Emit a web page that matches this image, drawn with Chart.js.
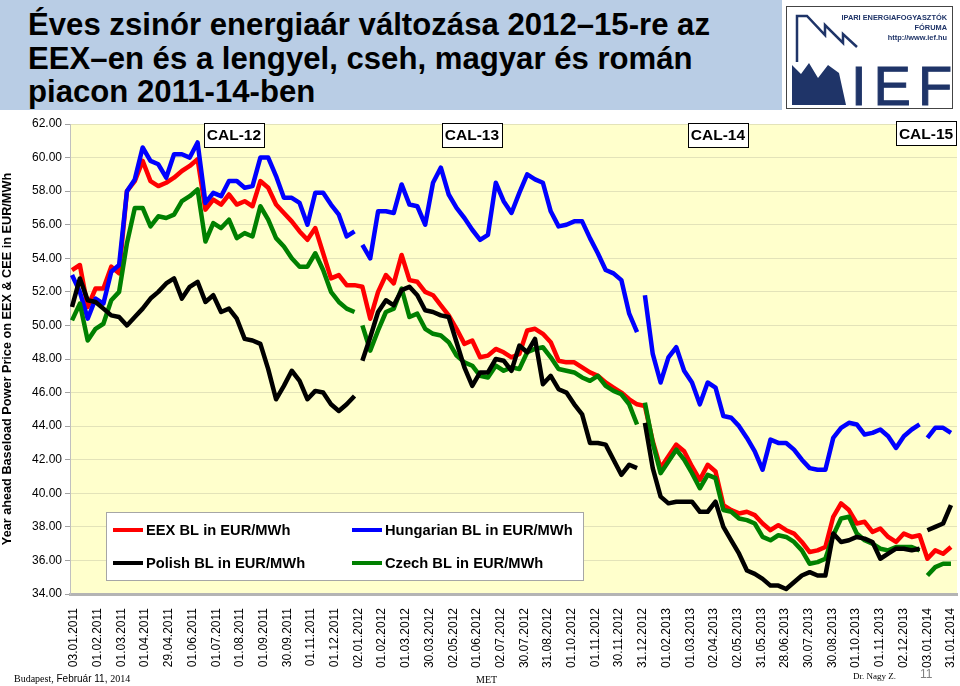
<!DOCTYPE html>
<html><head><meta charset="utf-8">
<script src="https://cdn.jsdelivr.net/npm/chart.js@4.4.1/dist/chart.umd.min.js"></script>
<style>
html,body{margin:0;padding:0;background:#fff;}
body{width:960px;height:686px;overflow:hidden;position:relative;font-family:"Liberation Sans",Arial,sans-serif;}
#chart{position:absolute;left:0;top:0;}
#titlebox{position:absolute;left:0;top:0;width:782px;height:110px;background:#b9cde5;}
#title{position:absolute;left:28px;top:8px;font-weight:bold;font-size:32px;line-height:33.5px;white-space:nowrap;transform-origin:0 0;color:#000;}
#title span{display:block;width:max-content;}
#logo{position:absolute;left:786px;top:6px;width:165px;height:101px;border:1px solid #444;background:#fff;}
.foot{position:absolute;white-space:nowrap;color:#000;}
</style></head>
<body>
<canvas id="chart" width="960" height="686"></canvas>
<div id="titlebox"><div id="title"><span id="t1">Éves zsinór energiaár változása 2012–15-re az</span><span>EEX–en és a lengyel, cseh, magyar és román</span><span>piacon 2011-14-ben</span></div></div>
<div id="logo">
<svg width="165" height="101" viewBox="0 0 165 101" xmlns="http://www.w3.org/2000/svg">
<polyline points="10,55 10,9 20,9 38,28 38,18 56,36 56,27 70,40" fill="none" stroke="#1f3468" stroke-width="2.5"/>
<polygon points="5,98 5,58 14,67 22,56 31,71 41,58 52,66 59,98" fill="#1f3468"/>
<text x="160" y="13" text-anchor="end" font-family="Liberation Sans, Arial" font-weight="bold" font-size="7.4" fill="#1f3468">IPARI ENERGIAFOGYASZTÓK</text>
<text x="160" y="23" text-anchor="end" font-family="Liberation Sans, Arial" font-weight="bold" font-size="7.4" fill="#1f3468">FÓRUMA</text>
<text x="160" y="33" text-anchor="end" font-family="Liberation Sans, Arial" font-weight="bold" font-size="7.4" fill="#1f3468">http://www.ief.hu</text>
<text x="64" y="98" font-family="Liberation Sans, Arial" font-size="56" letter-spacing="7" fill="#1f3468" stroke="#1f3468" stroke-width="1">IEF</text>
</svg>
</div>
<div class="foot" style="left:14px;top:673px;font-size:10px;"><span style="font-family:'Liberation Serif',serif">Budapest,</span> <span style="font-family:'Liberation Sans',Arial">Február 11,</span> <span style="font-family:'Liberation Serif',serif">2014</span></div>
<div class="foot" style="left:476px;top:674px;font-size:10px;font-family:'Liberation Serif',serif;">MET</div>
<div class="foot" style="left:853px;top:671px;font-size:9px;font-family:'Liberation Serif',serif;">Dr. Nagy Z.</div>
<div class="foot" style="left:920px;top:667px;font-size:12px;color:#808080;">11</div>
<script>
// ---- data ----
const tickLabels = ["03.01.2011","01.02.2011","01.03.2011","01.04.2011","29.04.2011","01.06.2011","01.07.2011","01.08.2011","01.09.2011","30.09.2011","01.11.2011","01.12.2011","02.01.2012","01.02.2012","01.03.2012","30.03.2012","02.05.2012","01.06.2012","02.07.2012","30.07.2012","31.08.2012","01.10.2012","01.11.2012","30.11.2012","31.12.2012","01.02.2013","01.03.2013","02.04.2013","02.05.2013","31.05.2013","28.06.2013","30.07.2013","30.08.2013","01.10.2013","01.11.2013","02.12.2013","03.01.2014","31.01.2014"];
const seriesNames = ["EEX BL in EUR/MWh","Hungarian BL in EUR/MWh","Polish BL in EUR/MWh","Czech BL in EUR/MWh"];
// samples are read roughly weekly: sample k sits at tick position sampleStart + k / samplesPerTick
const sampleStart = -0.084;
const samplesPerTick = 3.02;
const eex = [53.3,53.6,51.1,52.2,52.2,53.5,53.1,58.0,58.6,59.8,58.6,58.3,58.5,58.8,59.2,59.5,59.9,56.9,57.5,57.2,57.8,57.2,57.4,57.1,58.6,58.2,57.2,56.7,56.2,55.6,55.1,55.8,54.3,52.8,53.0,52.4,52.4,
52.3,50.4,52.0,53.0,52.5,54.2,52.7,52.6,52.0,51.8,51.2,50.6,49.8,48.9,49.1,48.1,48.2,48.6,48.4,48.1,48.3,49.7,49.8,49.5,49.0,47.9,47.8,47.8,47.5,47.2,47.0,46.6,46.3,46.0,45.6,45.3,
45.2,43.1,41.5,42.2,42.9,42.5,41.6,40.8,41.7,41.3,39.3,39.0,38.8,38.9,38.7,38.2,37.8,38.1,37.8,37.6,37.1,36.5,36.6,36.8,38.6,39.4,39.0,38.2,38.3,37.7,37.9,37.4,37.1,37.6,37.4,37.5,
36.1,36.6,36.4,36.8];
const hu = [53.0,52.0,50.4,51.6,51.3,53.2,53.6,58.0,58.7,60.6,59.8,59.6,58.8,60.2,60.2,60.0,60.9,57.3,57.9,57.7,58.6,58.6,58.2,58.3,60.0,60.0,58.9,57.6,57.6,57.3,56.0,57.9,57.9,57.2,56.6,55.3,55.6,
54.8,54.0,56.8,56.8,56.7,58.4,57.2,57.1,56.0,58.5,59.4,57.8,57.0,56.4,55.7,55.1,55.4,58.5,57.4,56.7,57.9,59.0,58.7,58.5,56.8,55.9,56.0,56.2,56.2,55.2,54.3,53.3,53.1,52.7,50.7,49.6,
51.8,48.3,46.6,48.1,48.7,47.3,46.6,45.3,46.6,46.3,44.6,44.5,44.0,43.3,42.5,41.4,43.2,43.0,43.0,42.6,42.0,41.5,41.4,41.4,43.3,43.9,44.2,44.1,43.5,43.6,43.8,43.4,42.7,43.4,43.8,44.1,
43.3,43.9,43.9,43.6];
const pl = [51.1,52.8,51.5,51.4,51.0,50.6,50.5,50.0,50.5,51.0,51.6,52.0,52.5,52.8,51.6,52.3,52.6,51.4,51.8,50.8,51.0,50.4,49.2,49.1,48.9,47.4,45.6,46.4,47.3,46.7,45.6,46.1,46.0,45.3,44.9,45.3,45.8,
47.9,49.3,50.8,51.5,51.2,52.1,52.3,51.8,50.9,50.8,50.6,50.5,49.0,47.5,46.4,47.2,47.2,48.0,47.9,47.3,48.8,48.4,49.2,46.5,47.0,46.2,46.0,45.3,44.7,43.0,43.0,42.9,42.0,41.1,41.7,41.5,
44.2,41.5,39.8,39.4,39.5,39.5,39.5,38.9,38.9,39.5,38.0,37.2,36.4,35.4,35.2,34.9,34.5,34.5,34.3,34.7,35.1,35.3,35.1,35.1,37.6,37.1,37.2,37.4,37.3,37.1,36.1,36.4,36.7,36.7,36.6,36.7,
37.8,38.0,38.2,39.3];
const cz = [50.3,51.3,49.1,49.8,50.1,51.5,52.0,54.9,57.0,57.0,55.9,56.5,56.4,56.6,57.4,57.7,58.1,55.0,56.1,55.8,56.3,55.2,55.5,55.3,57.1,56.3,55.2,54.7,54.0,53.5,53.5,54.3,53.3,52.0,51.4,51.0,50.8,
50.0,48.5,49.7,50.8,51.0,52.2,50.5,50.7,49.8,49.5,49.4,49.0,48.2,47.8,47.6,47.0,46.9,47.6,47.3,47.5,47.4,48.4,48.6,48.7,48.1,47.4,47.3,47.2,46.9,46.7,47.0,46.4,46.1,45.9,45.3,44.1,
45.4,43.0,41.2,41.9,42.6,42.0,41.2,40.3,41.1,40.9,39.0,38.9,38.5,38.4,38.2,37.4,37.2,37.5,37.4,37.1,36.6,35.8,35.9,36.1,37.5,38.5,38.6,37.6,37.2,37.0,36.7,36.6,36.8,36.8,36.8,36.6,
35.1,35.6,35.8,35.8];
const yearGaps = [36, 72, 108]; // sample index after which a contract-year change breaks the curve
const yTicks = {min: 34, max: 62, step: 2};
const calNames = ["CAL-12","CAL-13","CAL-14","CAL-15"];

// ---- chart ----
const FONT = "'Liberation Sans', Arial, sans-serif";
function pts(arr){ return arr.map((v,i)=>({x: sampleStart + i / samplesPerTick, y: v})); }
function ds(label, arr, color, order, gaps){
  return {label, data: pts(arr), borderColor: color, backgroundColor: color, borderWidth: 4.5,
    pointRadius: 0, pointHoverRadius: 0, tension: 0, order, borderJoinStyle: 'round',
    segment: {borderColor: ctx => gaps.includes(ctx.p0DataIndex) ? 'rgba(0,0,0,0)' : undefined}};
}

const bgPlugin = {
  id: 'plotbg',
  beforeDraw(chart){
    const {ctx, chartArea: a} = chart;
    ctx.save(); ctx.fillStyle = '#ffffcc'; ctx.fillRect(a.left, a.top, a.right - a.left, a.bottom - a.top); ctx.restore();
  }
};
const calPlugin = {
  id: 'cal',
  afterDatasetsDraw(chart, args, opts){
    const {ctx} = chart; const xs = chart.scales.x, ys = chart.scales.y;
    ctx.save();
    ctx.font = 'bold 15.5px ' + FONT; ctx.textAlign = 'center'; ctx.textBaseline = 'middle';
    calNames.forEach((name, i) => {
      const cx = xs.getPixelForValue(opts.at[i]); const cy = ys.getPixelForValue(opts.yAt[i]);
      const w = 60, h = 24;
      ctx.fillStyle = '#fff'; ctx.fillRect(cx - w/2, cy - h/2, w, h);
      ctx.strokeStyle = '#000'; ctx.lineWidth = 1; ctx.strokeRect(Math.round(cx - w/2) + 0.5, Math.round(cy - h/2) + 0.5, w, h);
      ctx.fillStyle = '#000'; ctx.fillText(name, cx, cy + 1);
    });
    ctx.restore();
  }
};
const legendPlugin = {
  id: 'boxlegend',
  afterDraw(chart, args, opts){
    const {ctx} = chart;
    ctx.save();
    ctx.fillStyle = '#fff'; ctx.fillRect(opts.x, opts.y, opts.w, opts.h);
    ctx.strokeStyle = '#a6a6a6'; ctx.lineWidth = 1; ctx.strokeRect(opts.x + 0.5, opts.y + 0.5, opts.w, opts.h);
    ctx.font = 'bold 14.7px ' + FONT; ctx.textBaseline = 'middle'; ctx.textAlign = 'left';
    chart.data.datasets.forEach((d, i) => {
      const col = i % 2, row = Math.floor(i / 2);
      const lx = opts.x + opts.pad + col * opts.colW, ly = opts.y + opts.rowY[row];
      ctx.strokeStyle = d.borderColor; ctx.lineWidth = 4; ctx.lineCap = 'butt';
      ctx.beginPath(); ctx.moveTo(lx, ly); ctx.lineTo(lx + 30, ly); ctx.stroke();
      ctx.fillStyle = '#000'; ctx.fillText(d.label, lx + 33, ly + 1);
    });
    ctx.restore();
  }
};

new Chart(document.getElementById('chart'), {
  type: 'line',
  data: { datasets: [
    ds(seriesNames[0], eex, '#ff0000', 3, []),
    ds(seriesNames[1], hu, '#0000ff', 2, yearGaps),
    ds(seriesNames[2], pl, '#000000', 0, yearGaps),
    ds(seriesNames[3], cz, '#008000', 1, yearGaps)
  ]},
  options: {
    responsive: false, animation: false, devicePixelRatio: 1,
    layout: {padding: {top: 124, right: 3, bottom: 0, left: 0}},
    plugins: {
      legend: {display: false}, tooltip: {enabled: false},
      cal: {at: [6.75, 16.79, 27.17, 35.95], yAt: [61.35, 61.35, 61.35, 61.45]},
      boxlegend: {x: 106, y: 512, w: 477, h: 68, pad: 7, colW: 239, rowY: [18, 51]}
    },
    scales: {
      x: {
        type: 'linear', min: -0.169, max: 37.257,
        afterFit(s){ s.height = 92; s.paddingLeft = 0; s.paddingRight = 0; },
        grid: {display: false},
        border: {display: true, color: '#b4b4b4', width: 3},
        ticks: {
          stepSize: 1, autoSkip: false, includeBounds: false, minRotation: 90, maxRotation: 90,
          padding: 6, color: '#000', font: {family: FONT, size: 12},
          callback: v => Number.isInteger(v) ? tickLabels[v] : ''
        }
      },
      y: {
        min: yTicks.min, max: yTicks.max,
        afterFit(s){ s.width = 70; s.paddingTop = 0; s.paddingBottom = 0; },
        grid: {color: 'rgba(175,175,150,0.35)', tickColor: '#a0a0a0', tickLength: 5, drawTicks: true},
        border: {display: true, color: '#c0c0c0', width: 1},
        ticks: {stepSize: yTicks.step, padding: 3, color: '#000', font: {family: FONT, size: 12},
          callback: v => v.toFixed(2)},
        title: {display: true, text: 'Year ahead Baseload Power Price on EEX & CEE in EUR/MWh',
          color: '#000', font: {family: FONT, size: 12.7, weight: 'bold'}, padding: {top: 0, bottom: 0}}
      }
    }
  },
  plugins: [bgPlugin, calPlugin, legendPlugin]
});

// fit the condensed title width
const t = document.getElementById('title');
const w1 = document.getElementById('t1').getBoundingClientRect().width;
t.style.transform = 'scaleX(' + (682 / w1) + ')';
</script>
</body></html>
